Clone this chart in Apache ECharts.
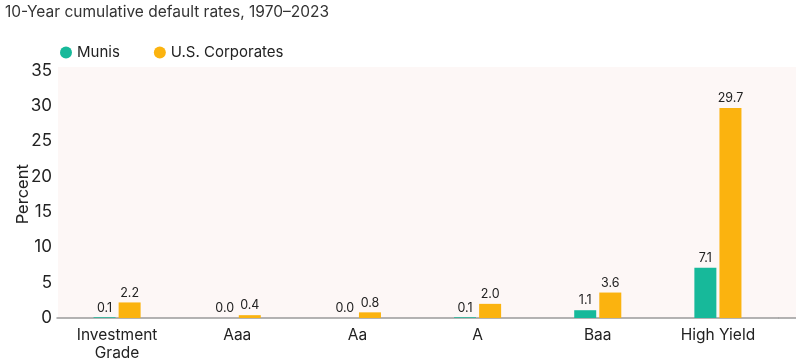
<!DOCTYPE html>
<html>
<head>
<meta charset="utf-8">
<script src="https://cdn.jsdelivr.net/npm/echarts@6/dist/echarts.min.js"></script>
<style>
html,body{margin:0;padding:0;background:#fff;}
#chart{width:802px;height:362px;}
</style>
</head>
<body>
<div id="chart"></div>
<script>
const titleText = '10-Year cumulative default rates, 1970\u20132023';
const categories = ['Investment\nGrade', 'Aaa', 'Aa', 'A', 'Baa', 'High Yield'];
const munis = [0.1, 0.0, 0.0, 0.1, 1.1, 7.1];
const corporates = [2.2, 0.4, 0.8, 2.0, 3.6, 29.7];
const seriesNames = ['Munis', 'U.S. Corporates'];
const colors = ['#17b99a', '#fbb30f'];
const yTicks = {min: 0, max: 35, interval: 5};

const FONT = 'Inter, "Noto Sans", sans-serif';
const chart = echarts.init(document.getElementById('chart'));
const labelCfg = {show: true, position: 'top', distance: 3, color: '#222', fontSize: 12.5, fontFamily: FONT,
  formatter: p => p.value.toFixed(1)};
chart.setOption({
  animation: false,
  textStyle: {fontFamily: FONT},
  title: {text: titleText, left: 0, top: -1, textStyle: {fontSize: 15.5, fontWeight: 'normal', color: '#333', fontFamily: FONT}},
  legend: {
    data: seriesNames, left: 55, top: 40, icon: 'circle', itemWidth: 12, itemHeight: 12, itemGap: 34,
    textStyle: {fontSize: 15, color: '#222', fontFamily: FONT}
  },
  graphic: [
    {type: 'rect', z: -10, silent: true, shape: {x: 58, y: 67, width: 738, height: 251}, style: {fill: '#fdf7f6'}},
    {type: 'line', z: 10, silent: true, shape: {x1: 778, y1: 318, x2: 796, y2: 318}, style: {stroke: '#9a9a9a', lineWidth: 1.5}}
  ],
  grid: {left: 57, right: 24, top: 70.5, bottom: 44, outerBoundsMode: 'none', containLabel: false},
  xAxis: {
    type: 'category', data: categories,
    axisLine: {lineStyle: {color: '#9a9a9a', width: 1.5}},
    axisTick: {show: false},
    axisLabel: {fontSize: 15.5, color: '#222', margin: 8, lineHeight: 18, interval: 0, fontFamily: FONT}
  },
  yAxis: {
    type: 'value', min: yTicks.min, max: yTicks.max, interval: yTicks.interval,
    name: 'Percent', nameLocation: 'middle', nameGap: 25, nameMoveOverlap: false,
    nameTextStyle: {fontSize: 16.5, color: '#222', fontFamily: FONT},
    axisLine: {show: false}, axisTick: {show: false}, splitLine: {show: false},
    axisLabel: {fontSize: 17, color: '#222', margin: 5, fontFamily: FONT}
  },
  series: [
    {name: seriesNames[0], type: 'bar', data: munis, barWidth: 22, barGap: '14%', itemStyle: {color: colors[0]}, label: labelCfg},
    {name: seriesNames[1], type: 'bar', data: corporates, barWidth: 22, itemStyle: {color: colors[1]}, label: labelCfg}
  ]
});
</script>
</body>
</html>
